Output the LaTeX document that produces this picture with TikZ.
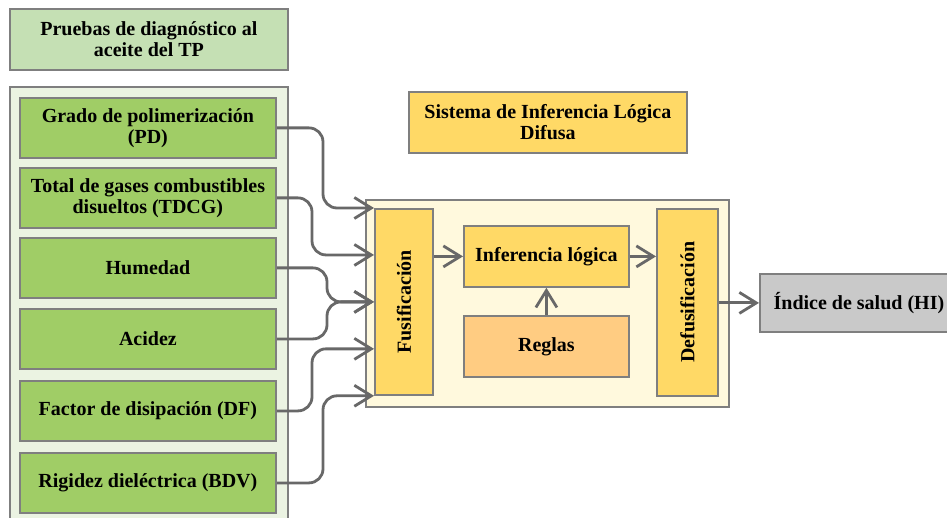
\documentclass[tikz,border=0pt]{standalone}
\usepackage{fontspec}
\setmainfont{Liberation Serif}
\usetikzlibrary{arrows.meta,calc}

\definecolor{titlegreen}{HTML}{C5E0B4}
\definecolor{panelgreen}{HTML}{EBF3E2}
\definecolor{itemgreen}{HTML}{A0CD66}
\definecolor{fuzzyyellow}{HTML}{FFD966}
\definecolor{panelyellow}{HTML}{FFF9DD}
\definecolor{rulesorange}{HTML}{FFCC82}
\definecolor{outgray}{HTML}{C9C9C9}
\definecolor{edgegray}{HTML}{7F7F7F}
\definecolor{wiregray}{HTML}{686868}

\tikzset{
  box/.style={draw=edgegray, line width=1.8pt, inner sep=0pt, align=center,
    anchor=north west, font=\fontsize{20}{21}\selectfont\bfseries},
  panel/.style={draw=edgegray, line width=1.8pt, inner sep=0pt, anchor=north west},
  item/.style={box, fill=itemgreen, minimum width=256, minimum height=60},
  fuzzy/.style={box, fill=fuzzyyellow},
  conn/.style={draw=wiregray, line width=2.8pt, rounded corners=14pt,
    -{Straight Barb[length=17pt,width=21pt,line width=2.8pt]}},
}

\begin{document}
\begin{tikzpicture}[x=1pt,y=-1pt]
\useasboundingbox (0,0) rectangle (947,518);

% left column: diagnostic tests
\node[box, fill=titlegreen, minimum width=278, minimum height=61] (title) at (9,8)
  {Pruebas de diagnóstico al\\aceite del TP};
\node[panel, fill=panelgreen, minimum width=278, minimum height=445] (tests) at (9,86) {};

\node[item] (pd)   at (19,97)  {Grado de polimerización\\(PD)};
\node[item] (tdcg) at (19,167) {Total de gases combustibles\\disueltos (TDCG)};
\node[item] (hum)  at (19,237) {Humedad};
\node[item] (acid) at (19,308) {Acidez};
\node[item] (df)   at (19,380) {Factor de disipación (DF)};
\node[item] (bdv)  at (19,452) {Rigidez dieléctrica (BDV)};

% fuzzy inference system
\node[fuzzy, minimum width=278, minimum height=61] (sys) at (408,91)
  {Sistema de Inferencia Lógica\\Difusa};
\node[panel, fill=panelyellow, minimum width=363, minimum height=207] (fis) at (365,199) {};

\node[fuzzy, minimum width=58, minimum height=186] (fus) at (374,208)
  {\rotatebox{90}{Fusificación}};
\node[fuzzy, minimum width=165, minimum height=61] (inf) at (463,225) {Inferencia lógica};
\node[box, fill=rulesorange, minimum width=165, minimum height=61] (rules) at (463,315) {Reglas};
\node[fuzzy, minimum width=61, minimum height=187] (defus) at (656,208)
  {\rotatebox{90}{Defusificación}};

% output
\node[box, fill=outgray, minimum width=198, minimum height=58] (hi) at (759,273)
  {Índice de salud (HI)};

% entry points on the fuzzification block
\coordinate (f1) at (fus.north west);
\coordinate (f2) at ($(fus.north west)!0.25!(fus.south west)$);
\coordinate (f3) at (fus.west);
\coordinate (f4) at ($(fus.north west)!0.75!(fus.south west)$);
\coordinate (f5) at (fus.south west);

% input connectors
\draw[conn] (pd.east)   -| ([xshift=-51pt]f1) -- (f1);
\draw[conn] (tdcg.east) -| ([xshift=-62pt]f2) -- (f2);
\draw[conn] (hum.east)  -| ([xshift=-47pt]f3) -- (f3);
\draw[conn] (acid.east) -| ([xshift=-47pt]f3) -- (f3);
\draw[conn] (df.east)   -| ([xshift=-62pt]f4) -- (f4);
\draw[conn] (bdv.east)  -| ([xshift=-51pt]f5) -- (f5);

% internal flow
\draw[conn] (fus.east |- inf.west) -- (inf.west);
\draw[conn] (rules.north) -- (inf.south);
\draw[conn] (inf.east) -- (defus.west |- inf.east);
\draw[conn] (defus.east |- hi.west) -- (hi.west);
\end{tikzpicture}
\end{document}
